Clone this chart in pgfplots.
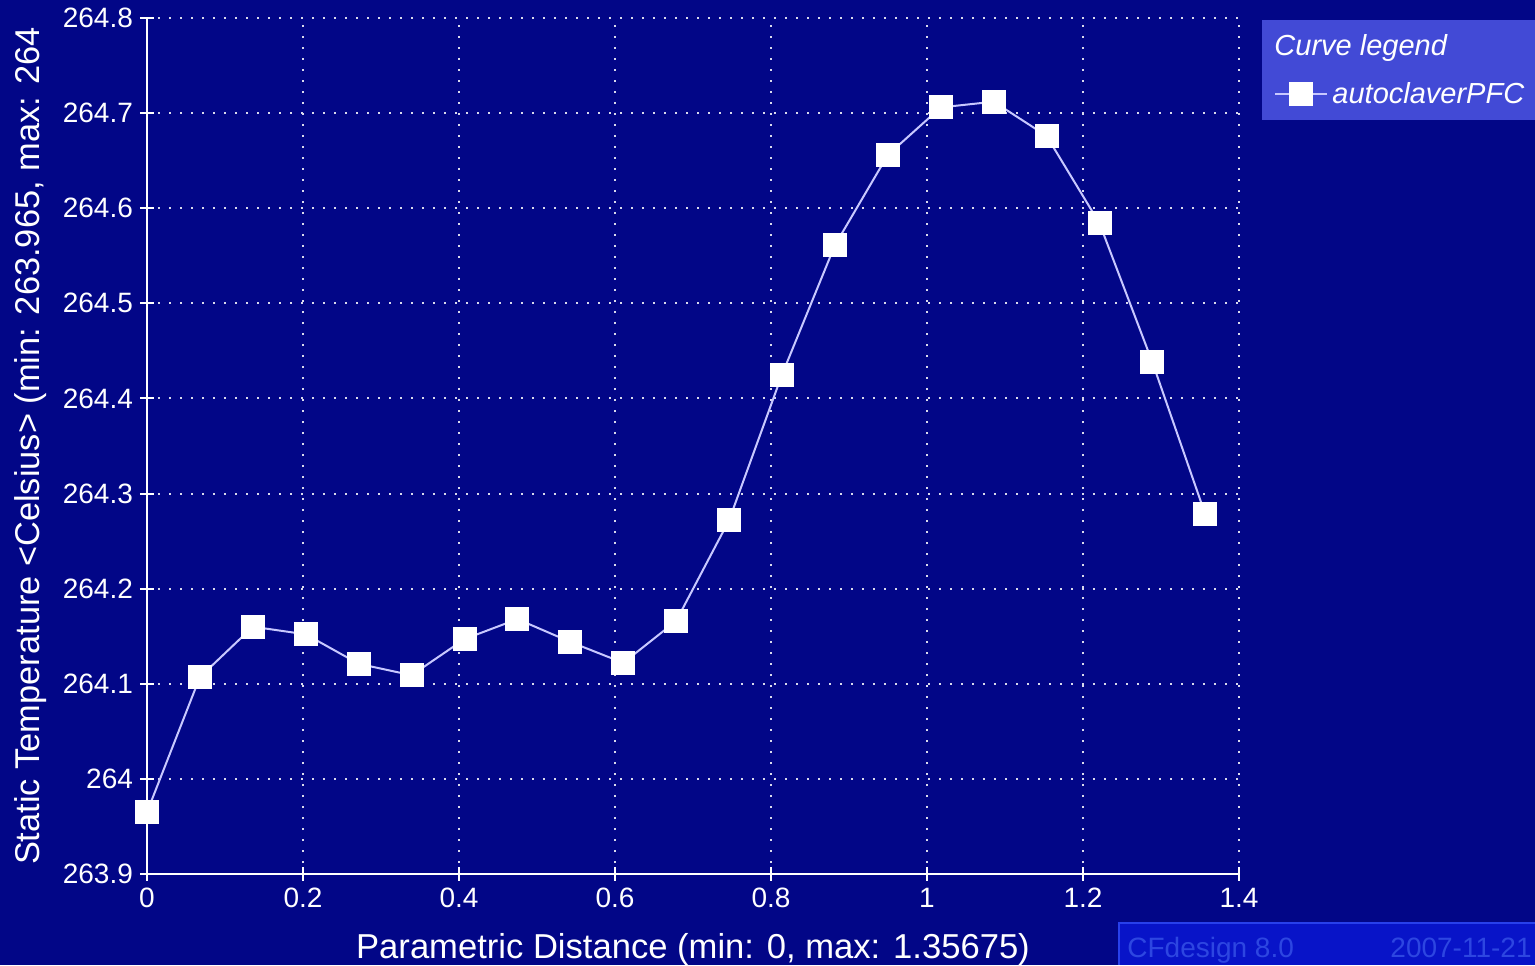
\documentclass[border=0pt]{standalone}
\usepackage{pgfplots}
\pgfplotsset{compat=1.18}
\usepackage{fontspec}
\setmainfont{Liberation Sans}
\definecolor{bg}{RGB}{2,6,135}
\definecolor{legfill}{RGB}{66,74,214}
\definecolor{footfill}{RGB}{8,20,200}
\definecolor{footline}{RGB}{40,64,235}
\definecolor{foottext}{RGB}{45,70,225}
\definecolor{curve}{RGB}{200,200,255}

\begin{document}
\begin{tikzpicture}[x=1pt,y=1pt]
\fill[bg] (0,0) rectangle (767.5,482.5);
\useasboundingbox (0,0) rectangle (767.5,482.5);

\begin{axis}[
    at={(73.5pt,45.5pt)}, anchor=south west,
    scale only axis, width=546pt, height=428pt,
    xmin=0, xmax=1.4, ymin=263.9, ymax=264.8,
    axis x line*=bottom, axis y line*=left,
    axis line style={white, line width=1pt},
    xtick={0,0.2,0.4,0.6,0.8,1,1.2,1.4},
    xticklabels={0,0.2,0.4,0.6,0.8,1,1.2,1.4},
    ytick={263.9,264,264.1,264.2,264.3,264.4,264.5,264.6,264.7,264.8},
    yticklabels={263.9,264,264.1,264.2,264.3,264.4,264.5,264.6,264.7,264.8},
    tick align=center, major tick length=7pt,
    tick style={white, line width=1pt},
    ticklabel style={text=white, font=\fontsize{14}{17}\selectfont},
    grid=major,
    major grid style={white!85!bg, line width=1pt, dash pattern=on 1pt off 4.5pt},
    xlabel={Parametric Distance (min: 0, max: 1.35675)},
    xlabel style={at={(axis description cs:0.5,0)}, anchor=base, yshift=-42pt,
        text=white, font=\fontsize{17.3}{20}\selectfont},
    ylabel={Static Temperature <Celsius> (min: 263.965, max: 264},
    ylabel style={at={(axis description cs:-0.098,0.0023)}, anchor=base west, rotate=0,
        text=white, font=\fontsize{17.2}{20}\selectfont},
    legend style={at={(axis description cs:1.0211,0.9977)}, anchor=north west,
        fill=legfill, draw=none, text=white, inner xsep=6pt, inner ysep=5pt,
        font=\itshape\fontsize{14.5}{17}\selectfont, row sep=8pt},
    legend cell align=left,
    legend image code/.code={\draw[mark repeat=2, mark phase=2, #1]
        plot coordinates {(0pt,0pt) (13pt,0pt) (26pt,0pt)};},
]
\addlegendimage{empty legend}
\addlegendentry{\hspace*{-29pt}Curve legend}
\addplot[curve, line width=1pt, mark=square*, mark size=5.5pt,
    mark options={fill=white, draw=white}] coordinates {
    (0.0000, 263.965)
    (0.0678, 264.107)
    (0.1357, 264.160)
    (0.2035, 264.152)
    (0.2714, 264.121)
    (0.3392, 264.109)
    (0.4071, 264.147)
    (0.4749, 264.168)
    (0.5427, 264.144)
    (0.6106, 264.122)
    (0.6784, 264.166)
    (0.7463, 264.272)
    (0.8141, 264.425)
    (0.8819, 264.561)
    (0.9498, 264.656)
    (1.0176, 264.706)
    (1.0855, 264.712)
    (1.1533, 264.676)
    (1.2212, 264.584)
    (1.2890, 264.438)
    (1.3568, 264.278)
};
\addlegendentry{autoclaverPFC}
\end{axis}

\fill[footfill] (559,0) rectangle (767.5,21.5);
\draw[footline, line width=1pt] (559.5,0) -- (559.5,21) -- (767.5,21);
\node[anchor=base west, inner sep=0pt, text=foottext, font=\fontsize{14}{17}\selectfont]
    at (563.5,4) {CFdesign 8.0};
\node[anchor=base east, inner sep=0pt, text=foottext, font=\fontsize{14}{17}\selectfont]
    at (766,4) {2007-11-21};
\end{tikzpicture}
\end{document}
